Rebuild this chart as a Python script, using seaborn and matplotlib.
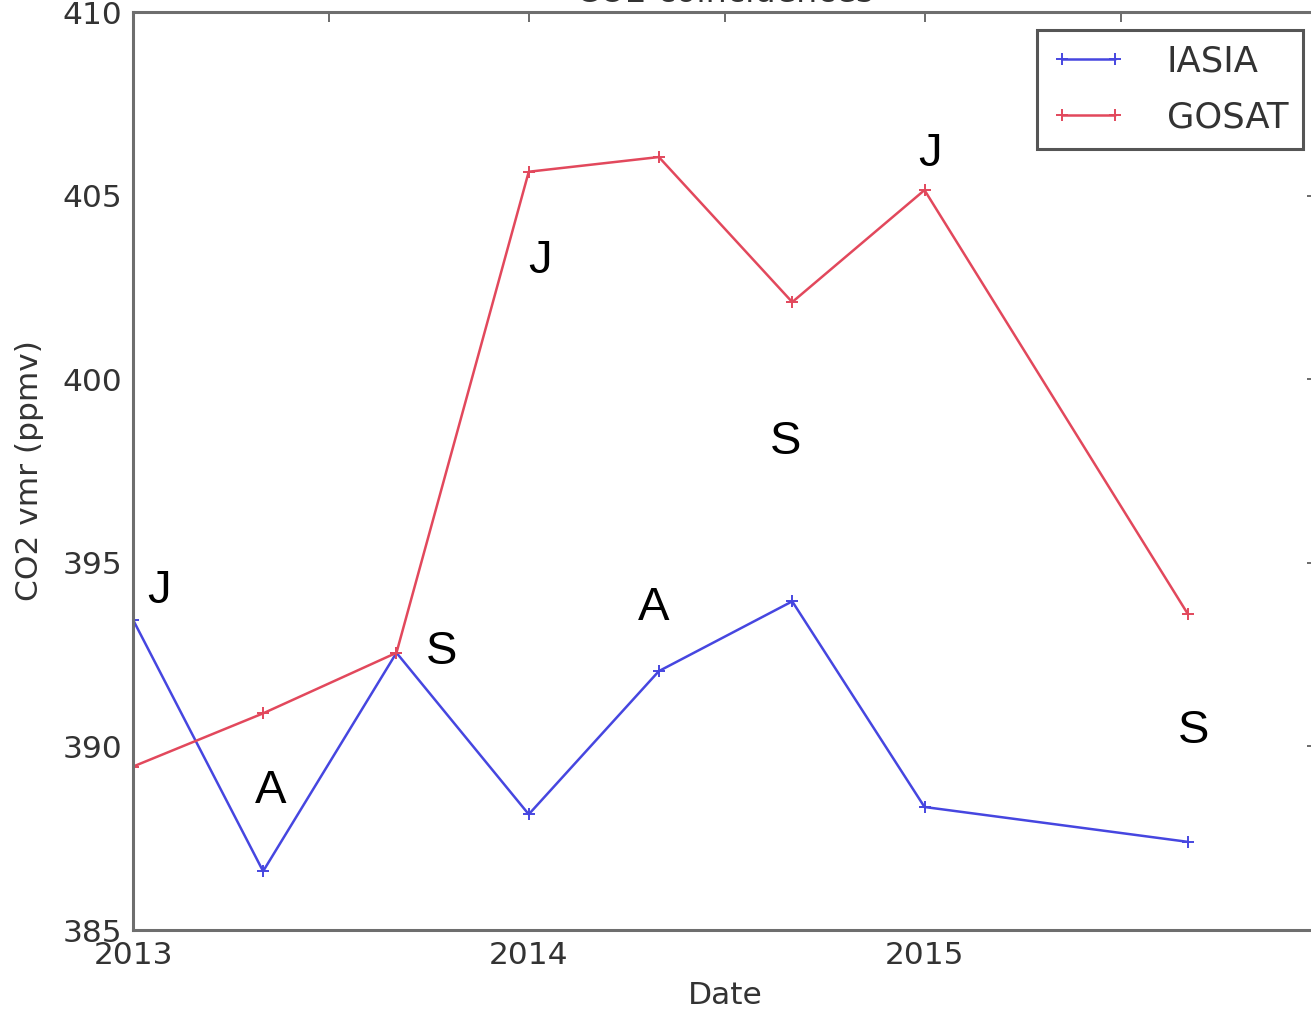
import matplotlib
matplotlib.use("Agg")
import matplotlib.pyplot as plt
import matplotlib.dates as mdates
import pandas as pd
import seaborn as sns

# Coincidence dates and CO2 volume mixing ratios (ppmv)
dates = ["2013-01-01", "2013-05-01", "2013-09-01", "2014-01-01",
         "2014-05-01", "2014-09-01", "2015-01-01", "2015-09-01"]
iasia = [393.45, 386.6, 392.55, 388.15, 392.05, 393.95, 388.35, 387.4]
gosat = [389.45, 390.9, 392.55, 405.65, 406.05, 402.1, 405.15, 393.6]

# Season letters written next to the curves
season_letters = ["J", "A", "S", "J", "A", "S", "J", "S"]
letter_dates = ["2013-01-25", "2013-05-08", "2013-10-13", "2014-01-11",
                "2014-04-26", "2014-08-26", "2015-01-06", "2015-09-06"]
letter_values = [393.9, 388.45, 392.25, 402.9, 393.45, 397.95, 405.8, 390.1]

yticks = [385, 390, 395, 400, 405, 410]

sns.set_style("white")
plt.rcParams["font.family"] = ["DejaVu Sans"]

fig = plt.figure(figsize=(13.11, 10.13), dpi=100)
ax = fig.add_axes([133 / 1311, 83 / 1013, 1184 / 1311, 918 / 1013])

t = pd.to_datetime(dates)
for values, colour, name in [(iasia, "#4646e0", "IASIA"),
                             (gosat, "#e2485c", "GOSAT")]:
    sns.lineplot(x=t, y=values, ax=ax, color=colour, marker="+",
                 markersize=9, markeredgewidth=1.4, markeredgecolor=colour,
                 markerfacecolor=colour, linewidth=1.8, label=name,
                 estimator=None, sort=False)

for letter, d, v in zip(season_letters, letter_dates, letter_values):
    ax.text(pd.Timestamp(d), v, letter, ha="center", va="baseline",
            fontsize=34, color="black", family=["Liberation Sans"])

ax.set_xlim(pd.Timestamp("2013-01-01"), pd.Timestamp("2015-12-29"))
ax.set_ylim(385, 410)
ax.set_yticks(yticks)
ax.xaxis.set_major_locator(mdates.YearLocator())
ax.xaxis.set_major_formatter(mdates.DateFormatter("%Y"))
ax.xaxis.set_minor_locator(mdates.MonthLocator(bymonth=7))

for side in ["left", "right", "top", "bottom"]:
    ax.spines[side].set_color("#6e6e6e")
    ax.spines[side].set_linewidth(2.2)

ax.tick_params(which="both", direction="in", length=7, width=1.3,
               color="#606060", top=True, right=True,
               labelsize=22.5, labelcolor="#333333", pad=8)

ax.set_xlabel("Date", fontsize=22.5, color="#333333", labelpad=8)
ax.set_ylabel("CO2 vmr (ppmv)", fontsize=22.5, color="#333333", labelpad=13)
ax.set_title("CO2 coincidences", fontsize=24, color="#333333", pad=7.5)

leg = ax.legend(loc="upper right", bbox_to_anchor=(1303 / 1311, 1 - 30 / 1013),
                bbox_transform=fig.transFigure, borderaxespad=0,
                numpoints=2, fontsize=25.5, handlelength=2.1,
                handletextpad=1.15, borderpad=0.42, labelspacing=0.6,
                fancybox=False, framealpha=1)
leg.get_frame().set_edgecolor("#555555")
leg.get_frame().set_linewidth(2.2)
for txt in leg.get_texts():
    txt.set_color("#333333")

fig.savefig("out.png", dpi=100)
